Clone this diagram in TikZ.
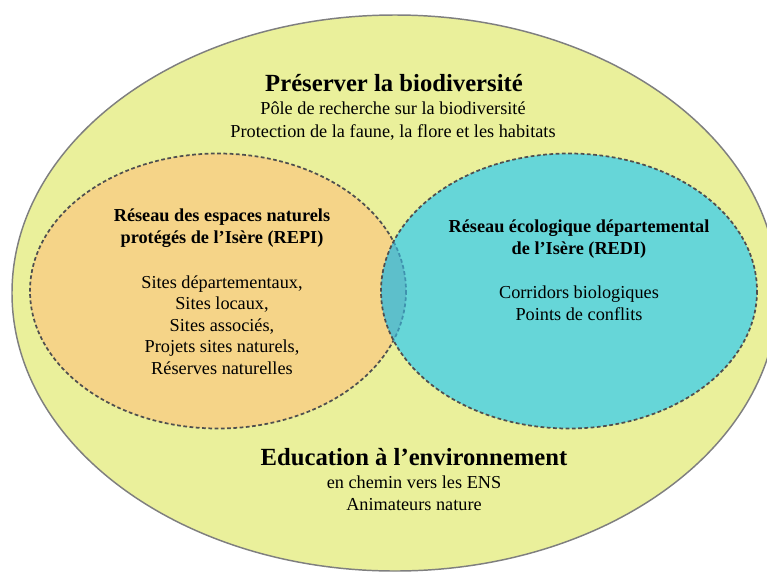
\documentclass[tikz,border=0pt]{standalone}
\usepackage{fontspec}
\setmainfont{Liberation Serif}
\definecolor{bigfill}{HTML}{EAF09B}
\definecolor{bigline}{HTML}{7F7F7F}
\definecolor{orangefill}{HTML}{F5D488}
\definecolor{cyanfill}{HTML}{66D6D8}
\definecolor{overlapfill}{HTML}{5DBFCB}
\definecolor{dashgray}{HTML}{4F4F4F}
\definecolor{dashblue}{HTML}{3F92AE}
\tikzset{
  dashedring/.style={line width=1.3pt, dash pattern=on 2.8pt off 1.9pt},
  bigtitle/.style={inner sep=0pt, font=\fontsize{18.5}{22}\selectfont\bfseries},
  bodytext/.style={inner sep=0pt, align=center, font=\fontsize{13.7}{17.2}\selectfont},
  headtext/.style={inner sep=0pt, align=center, font=\fontsize{13.7}{16.5}\selectfont\bfseries},
}
\begin{document}
\begin{tikzpicture}[x=0.75pt,y=-0.75pt]
\useasboundingbox (0,0) rectangle (767,572);
\begin{scope}
  \clip (0,0) rectangle (767,572);
  \filldraw[fill=bigfill, draw=bigline, line width=1.1pt] (395,293) ellipse [x radius=383, y radius=278];
\end{scope}
% orange ellipse
\fill[orangefill] (218,291) ellipse [x radius=188, y radius=137.5];
\draw[dashgray, dashedring] (218,291) ellipse [x radius=188, y radius=137.5];
% cyan ellipse
\fill[cyanfill] (569,291) ellipse [x radius=188, y radius=137.5];
\begin{scope}
  \clip (218,291) ellipse [x radius=188, y radius=137.5];
  \fill[overlapfill] (569,291) ellipse [x radius=188, y radius=137.5];
\end{scope}
\begin{scope}
  \clip (569,291) ellipse [x radius=188, y radius=137.5];
  \draw[dashblue, dashedring] (218,291) ellipse [x radius=188, y radius=137.5];
\end{scope}
\draw[dashgray, dashedring] (569,291) ellipse [x radius=188, y radius=137.5];
% texts
\node[bigtitle] (title) at (394,83) {Préserver la biodiversité};
\node[bodytext] (titlesub) at (393,121) {Pôle de recherche sur la biodiversité\\Protection de la faune, la flore et les habitats};
\node[headtext] (repihead) at (222,228) {Réseau des espaces naturels\\protégés de l’Isère (REPI)};
\node[bodytext, font=\fontsize{13.7}{16.1}\selectfont] (repilist) at (222,325) {Sites départementaux,\\Sites locaux,\\Sites associés,\\Projets sites naturels,\\Réserves naturelles};
\node[headtext] (redihead) at (579,239) {Réseau écologique départemental\\de l’Isère (REDI)};
\node[bodytext, font=\fontsize{13.7}{16.5}\selectfont] (redilist) at (579,303) {Corridors biologiques\\Points de conflits};
\node[bigtitle] (edu) at (414,457) {Education à l’environnement};
\node[bodytext, font=\fontsize{13.7}{16.5}\selectfont] (edusub) at (414,493) {en chemin vers les ENS\\Animateurs nature};
\end{tikzpicture}
\end{document}
